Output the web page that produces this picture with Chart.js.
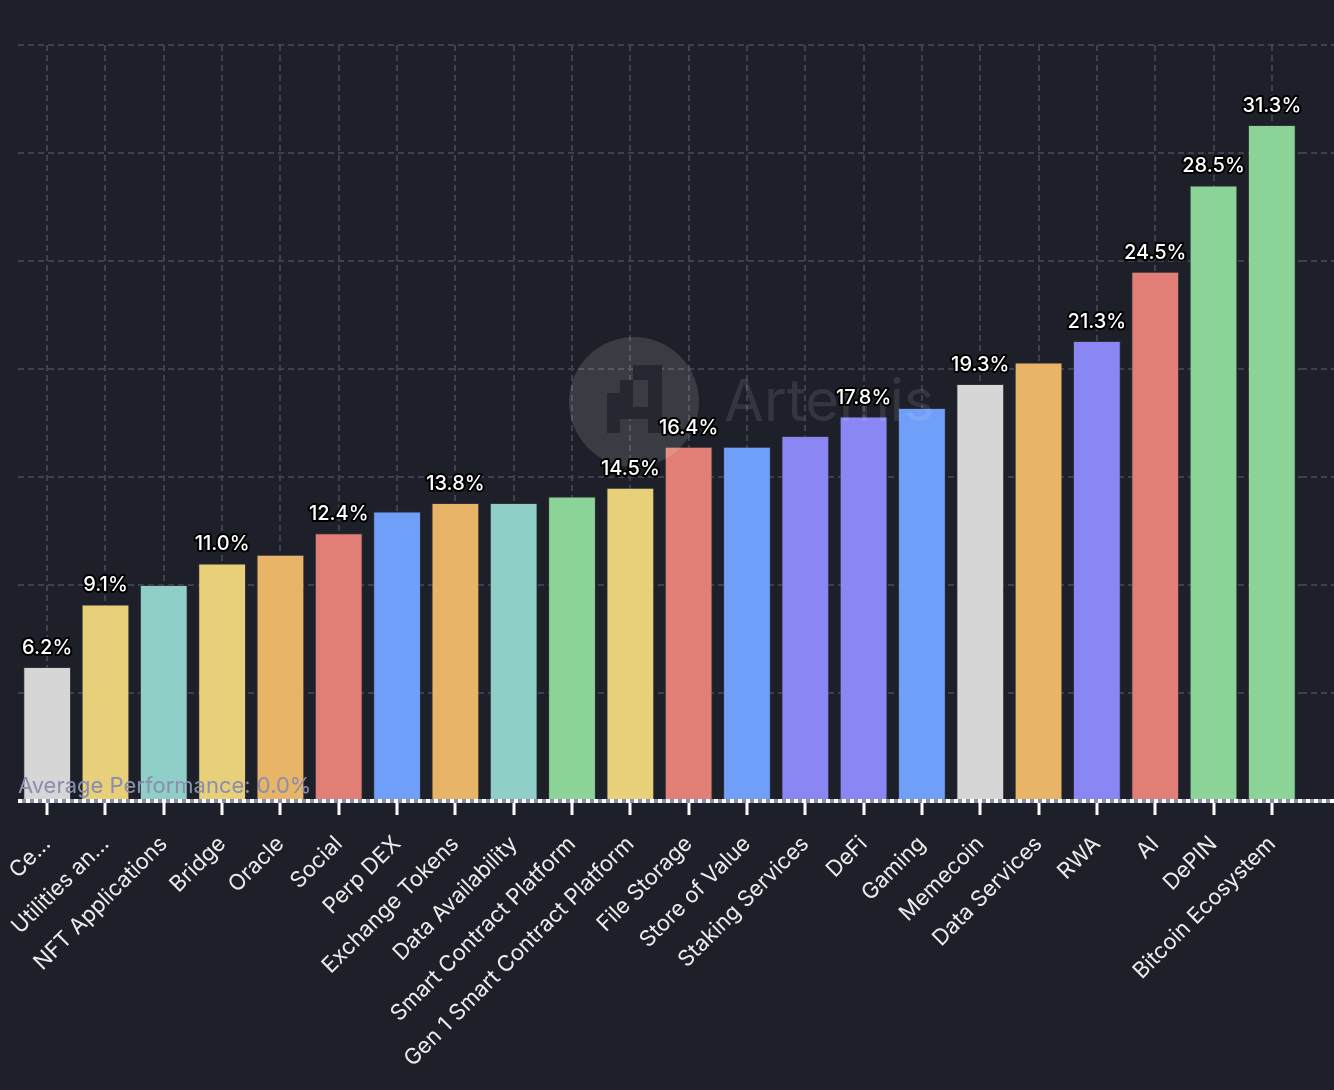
<!DOCTYPE html>
<html lang="en">
<head>
<meta charset="UTF-8">
<title>Sector Performance</title>
<script src="https://cdn.jsdelivr.net/npm/chart.js"></script>
<style>
    html, body {
        margin: 0;
        padding: 0;
        background: #1d1f29;
    }
    #wrap {
        width: 1334px;
        height: 1090px;
        position: relative;
    }
</style>
</head>
<body>
<div id="wrap"><canvas id="chart"></canvas></div>
<script>
const categories = ['Ce...', 'Utilities an...', 'NFT Applications', 'Bridge', 'Oracle', 'Social', 'Perp DEX',
    'Exchange Tokens', 'Data Availability', 'Smart Contract Platform', 'Gen 1 Smart Contract Platform',
    'File Storage', 'Store of Value', 'Staking Services', 'DeFi', 'Gaming', 'Memecoin', 'Data Services',
    'RWA', 'AI', 'DePIN', 'Bitcoin Ecosystem'];
const performance = [6.2, 9.1, 10.0, 11.0, 11.4, 12.4, 13.4, 13.8, 13.8, 14.1, 14.5,
    16.4, 16.4, 16.9, 17.8, 18.2, 19.3, 20.3, 21.3, 24.5, 28.5, 31.3];
// only some bars carry a value label in the original
const labelled = [0, 1, 3, 5, 7, 10, 11, 14, 16, 18, 19, 20, 21];
const yTicks = [0, 5, 10, 15, 20, 25, 30, 35];
const averagePerformance = 0.0;

const gray = '#d6d6d6', yellow = '#e8cf79', teal = '#8fcfc8', orange = '#e8b467',
      red = '#e17f76', blue = '#6f9ff8', purple = '#8a86f3', green = '#8cd398';
const barColors = [gray, yellow, teal, yellow, orange, red, blue, orange, teal, green, yellow,
    red, blue, purple, purple, blue, gray, orange, purple, red, green, green];

const gridColor = '#3e4050';

// horizontal grid continues to the right edge of the picture
const gridExtend = {
    id: 'gridExtend',
    beforeDatasetsDraw(chart) {
        const {ctx, chartArea, scales: {y}} = chart;
        ctx.save();
        ctx.strokeStyle = gridColor;
        ctx.lineWidth = 2;
        ctx.setLineDash([6, 4]);
        yTicks.forEach(t => {
            if (t === 0) return;
            const py = y.getPixelForValue(t);
            ctx.beginPath();
            ctx.moveTo(chartArea.right, py);
            ctx.lineTo(chart.width, py);
            ctx.stroke();
        });
        ctx.restore();
    }
};

const watermark = {
    id: 'watermark',
    afterDatasetsDraw(chart) {
        const ctx = chart.ctx;
        ctx.save();
        ctx.fillStyle = 'rgba(255,255,255,0.13)';
        ctx.beginPath();
        ctx.arc(634, 402, 65, 0, Math.PI * 2);
        ctx.fill();
        ctx.fillStyle = '#262731';
        ctx.fillRect(607, 393, 13, 40);
        ctx.fillRect(620, 380, 13, 27);
        ctx.fillRect(633, 365, 29, 15);
        ctx.fillRect(648, 365, 14, 68);
        ctx.fillRect(620, 407, 28, 12);
        ctx.fillStyle = 'rgba(255,255,255,0.10)';
        ctx.font = '58px Inter';
        ctx.textBaseline = 'alphabetic';
        ctx.fillText('Artemis', 724, 421);
        ctx.restore();
    }
};

const valueLabels = {
    id: 'valueLabels',
    afterDatasetsDraw(chart) {
        const ctx = chart.ctx;
        const meta = chart.getDatasetMeta(0);
        ctx.save();
        ctx.font = '500 20px Inter';
        ctx.textAlign = 'center';
        ctx.textBaseline = 'bottom';
        ctx.lineJoin = 'round';
        ctx.lineWidth = 4;
        ctx.strokeStyle = '#000';
        ctx.fillStyle = '#fff';
        labelled.forEach(i => {
            const bar = meta.data[i];
            const txt = performance[i].toFixed(1) + '%';
            ctx.strokeText(txt, bar.x, bar.y - 9);
            ctx.fillText(txt, bar.x, bar.y - 9);
        });
        ctx.restore();
    }
};

const averageLine = {
    id: 'averageLine',
    afterDatasetsDraw(chart) {
        const {ctx, chartArea, scales: {y}} = chart;
        const py = y.getPixelForValue(averagePerformance);
        ctx.save();
        ctx.lineWidth = 4;
        ctx.strokeStyle = '#8a8fae';
        ctx.beginPath();
        ctx.moveTo(chartArea.left, py);
        ctx.lineTo(chart.width, py);
        ctx.stroke();
        ctx.strokeStyle = '#ffffff';
        ctx.setLineDash([4, 4]);
        ctx.beginPath();
        ctx.moveTo(chartArea.left, py);
        ctx.lineTo(chart.width, py);
        ctx.stroke();
        ctx.setLineDash([]);
        ctx.fillStyle = '#8a8fb0';
        ctx.font = '22px Inter';
        ctx.textAlign = 'left';
        ctx.textBaseline = 'alphabetic';
        ctx.fillText('Average Performance: ' + averagePerformance.toFixed(1) + '%', chartArea.left, py - 8);
        ctx.restore();
    }
};

new Chart(document.getElementById('chart'), {
    type: 'bar',
    data: {
        labels: categories,
        datasets: [{
            data: performance,
            backgroundColor: barColors,
            borderColor: 'rgba(60,60,70,0.6)',
            borderWidth: 1,
            categoryPercentage: 1,
            barPercentage: 0.82
        }]
    },
    options: {
        responsive: true,
        maintainAspectRatio: false,
        animation: false,
        layout: {padding: {left: 18, right: 33, top: 45, bottom: 0}},
        plugins: {
            legend: {display: false},
            tooltip: {enabled: false}
        },
        scales: {
            x: {
                grid: {
                    offset: false,
                    color: gridColor,
                    lineWidth: 2,
                    tickColor: '#ffffff',
                    tickWidth: 3,
                    tickLength: 14
                },
                border: {display: false, dash: [6, 4]},
                ticks: {
                    color: '#ececec',
                    font: {family: 'Inter', size: 22},
                    minRotation: 45,
                    maxRotation: 45,
                    autoSkip: false,
                    padding: 16
                },
                afterFit(scale) {
                    scale.height = 289;
                    scale.paddingLeft = 0;
                    scale.paddingRight = 0;
                }
            },
            y: {
                min: 0,
                max: 35,
                afterBuildTicks(scale) { scale.ticks = yTicks.map(v => ({value: v})); },
                grid: {color: gridColor, lineWidth: 2, drawTicks: false},
                border: {display: false, dash: [6, 4]},
                ticks: {display: false},
                afterFit(scale) { scale.width = 0; }
            }
        }
    },
    plugins: [gridExtend, watermark, valueLabels, averageLine]
});
</script>
</body>
</html>
